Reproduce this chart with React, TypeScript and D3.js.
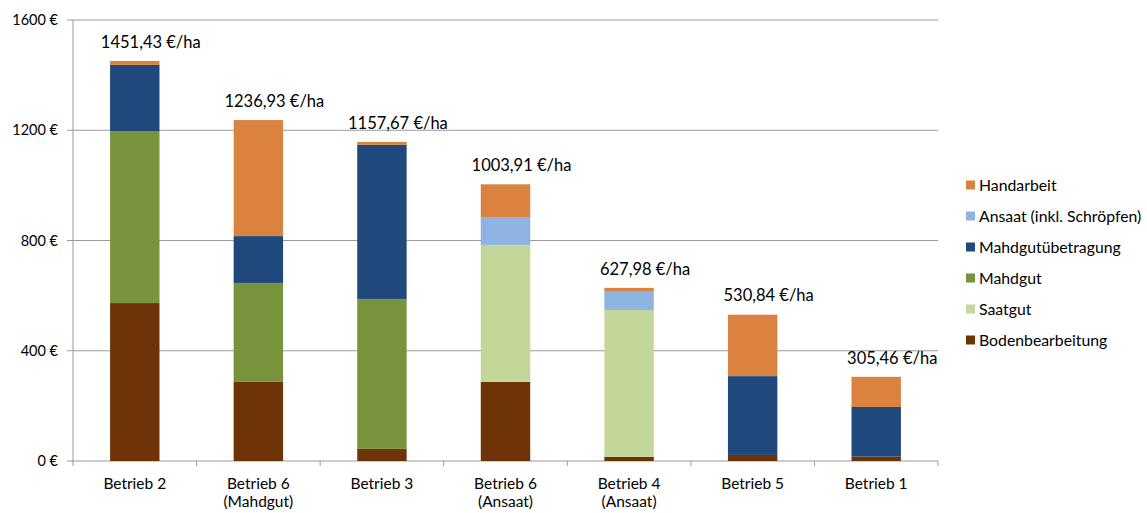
import React from "react";
import * as d3 from "d3";

const categories = ["Betrieb 2", "Betrieb 6\n(Mahdgut)", "Betrieb 3", "Betrieb 6\n(Ansaat)", "Betrieb 4\n(Ansaat)", "Betrieb 5", "Betrieb 1"];
const seriesNames = ["Bodenbearbeitung", "Saatgut", "Mahdgut", "Mahdgutübetragung", "Ansaat (inkl. Schröpfen)", "Handarbeit"];
const seriesColors = ["#6E3407", "#C4D79B", "#77933C", "#1F497D", "#8DB3E2", "#DA8341"];
const bodenbearbeitung = [573, 287, 44, 287, 15, 22, 16];
const saatgut = [0, 0, 0, 497, 533, 0, 0];
const mahdgut = [624, 359, 544, 0, 0, 0, 0];
const mahdgutuebertragung = [240, 170, 559, 0, 0, 286, 180];
const ansaat = [0, 0, 0, 99, 66, 0, 0];
const handarbeit = [14.43, 420.93, 10.67, 120.91, 13.98, 222.84, 109.46];
const totals = ["1451,43 €/ha", "1236,93 €/ha", "1157,67 €/ha", "1003,91 €/ha", "627,98 €/ha", "530,84 €/ha", "305,46 €/ha"];
const yTicks = [0, 400, 800, 1200, 1600];

const seriesValues = [bodenbearbeitung, saatgut, mahdgut, mahdgutuebertragung, ansaat, handarbeit];

export default function App() {
  const W = 1147, H = 513;
  const left = 73, right = 938, top = 20, bottom = 461;
  const x = d3.scaleBand().domain(categories).range([left, right]).paddingInner(0.6).paddingOuter(0.3);
  const xt = d3.scaleBand().domain(categories).range([left, right]);
  const y = d3.scaleLinear().domain([0, 1600]).range([bottom, top]);
  const rows = categories.map((c, i) => {
    const r: any = { cat: c };
    seriesNames.forEach((s, j) => (r[s] = seriesValues[j][i]));
    return r;
  });
  const stacked = d3.stack().keys(seriesNames)(rows as any);
  const font = "Lato, 'Open Sans', sans-serif";
  const legendOrder = [...seriesNames].reverse();
  return (
    <svg width={W} height={H} style={{ position: "absolute", left: 0, top: 0, background: "#fff" }} fontFamily={font}>
      {yTicks.map((t) => (
        <g key={t}>
          <line x1={left - 6} x2={right} y1={y(t)} y2={y(t)} stroke="#9a9a9a" strokeWidth={1} />
          <text x={58} y={y(t)} dy="0.35em" textAnchor="end" fontSize={14.5} fill="#000">{t} €</text>
        </g>
      ))}
      <line x1={left} x2={left} y1={top} y2={bottom} stroke="#9a9a9a" />
      {categories.map((c, i) => (
        <line key={"t" + i} x1={xt(c)!} x2={xt(c)!} y1={bottom} y2={bottom + 5} stroke="#9a9a9a" />
      ))}
      <line x1={right} x2={right} y1={bottom} y2={bottom + 5} stroke="#9a9a9a" />
      {stacked.map((s, j) => (
        <g key={s.key} fill={seriesColors[j]}>
          {s.map((d, i) => (d[1] - d[0] > 0 ? (
            <rect key={i} x={x(categories[i])!} width={x.bandwidth()} y={y(d[1])} height={y(d[0]) - y(d[1])} />
          ) : null))}
        </g>
      ))}
      {categories.map((c, i) => {
        const tot = stacked[stacked.length - 1][i][1];
        return (
          <text key={"l" + i} x={x(c)! + x.bandwidth() / 2 + 16} y={y(tot) - 19} dy="0.35em" textAnchor="middle" fontSize={16.5} fill="#000">{totals[i]}</text>
        );
      })}
      {categories.map((c, i) => (
        <text key={"x" + i} x={xt(c)! + xt.bandwidth() / 2} y={484} textAnchor="middle" fontSize={15.5} fill="#000">
          {c.split("\n").map((ln, k) => (
            <tspan key={k} x={xt(c)! + xt.bandwidth() / 2} dy={k === 0 ? "0.35em" : 18}>{ln}</tspan>
          ))}
        </text>
      ))}
      {legendOrder.map((s, k) => {
        const j = seriesNames.indexOf(s);
        const ly = 185 + k * 31;
        return (
          <g key={s}>
            <rect x={966} y={ly - 4.5} width={9} height={9} fill={seriesColors[j]} />
            <text x={979} y={ly} dy="0.35em" fontSize={15.8} fill="#000">{s}</text>
          </g>
        );
      })}
    </svg>
  );
}
